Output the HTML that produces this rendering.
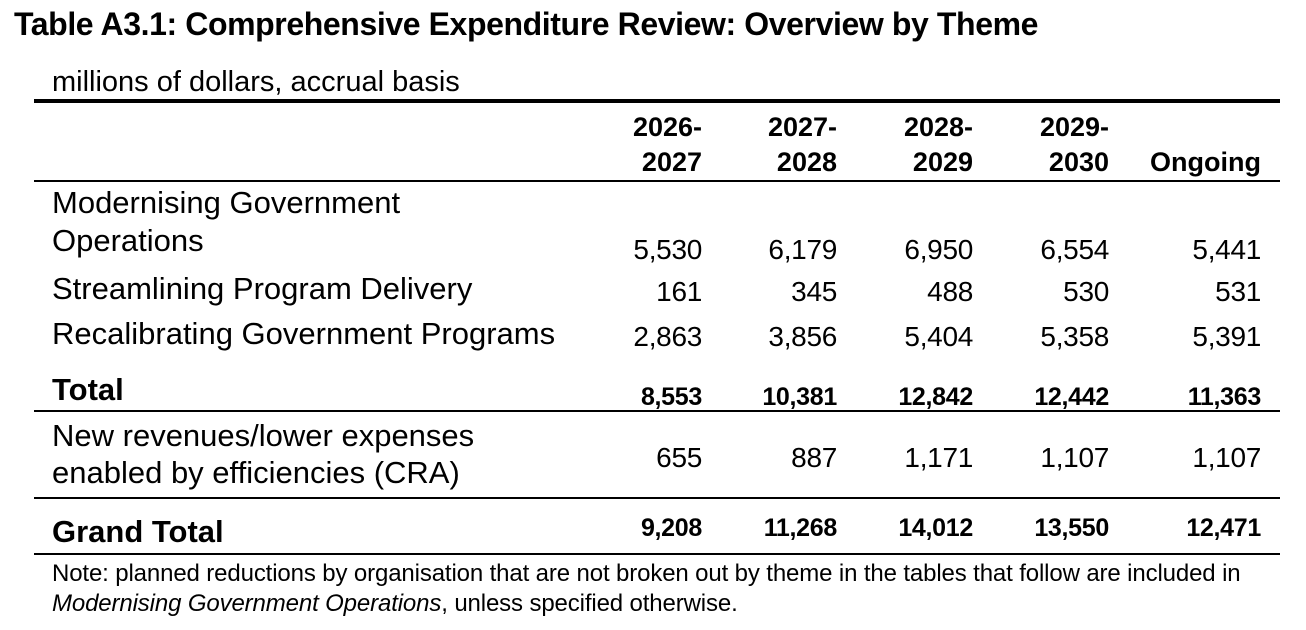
<!DOCTYPE html>
<html><head><meta charset="utf-8"><style>
body{margin:0;width:1306px;height:630px;background:#fff;position:relative;overflow:hidden;font-family:"Liberation Sans",sans-serif;color:#000}
.t{position:absolute;white-space:nowrap;line-height:36px;height:36px}
.r{text-align:right;width:200px}
.b{font-weight:bold}
.ln{position:absolute;left:34px;width:1246px;background:#000}
</style></head><body>
<div class="t b" style="left:14px;top:6px;font-size:32px;letter-spacing:-0.4px">Table A3.1: Comprehensive Expenditure Review: Overview by Theme</div>
<div class="t" style="left:52px;top:64px;font-size:29px;letter-spacing:0px">millions of dollars, accrual basis</div>
<div class="ln" style="top:99px;height:4px"></div>
<div class="ln" style="top:180px;height:2px"></div>
<div class="ln" style="top:410px;height:2px"></div>
<div class="ln" style="top:497px;height:2px"></div>
<div class="ln" style="top:553px;height:2px"></div>
<div id="cells"></div>
<div class="t" style="left:52px;top:556px;font-size:24px;letter-spacing:-0.13px">Note: planned reductions by organisation that are not broken out by theme in the tables that follow are included in</div>
<div class="t" style="left:52px;top:586px;font-size:24px;letter-spacing:-0.13px"><i>Modernising Government Operations</i>, unless specified otherwise.</div>
<script>
const colRight=[702,837,973,1109,1261];
const headers1=["2026-","2027-","2028-","2029-",""];
const headers2=["2027","2028","2029","2030","Ongoing"];
const labels=[["Modernising Government","Operations"],["Streamlining Program Delivery"],["Recalibrating Government Programs"],["Total"],["New revenues/lower expenses","enabled by efficiencies (CRA)"],["Grand Total"]];
const values=[[5530,6179,6950,6554,5441],[161,345,488,530,531],[2863,3856,5404,5358,5391],[8553,10381,12842,12442,11363],[655,887,1171,1107,1107],[9208,11268,14012,13550,12471]];
const bold=[false,false,false,true,false,true];
const labelY=[[203,241],[289],[334],[390],[436,473],[532]];
const valY=[250,292,337,397,458,528];
const c=document.getElementById('cells');
function add(txt,x,y,cls,fs,right){const d=document.createElement('div');d.className='t '+cls;d.textContent=txt;d.style.fontSize=fs+'px';d.style.top=(y-18)+'px';d.style.left=(right?x-200:x)+'px';if(right)d.classList.add('r');c.appendChild(d);return d;}
colRight.forEach((x,i)=>{let a=add(headers1[i],x,127,'b',27,true);


let b=add(headers2[i],x,162,'b',27,true);

});
labels.forEach((ls,r)=>{ls.forEach((l,k)=>{let d=add(l,52,labelY[r][k],bold[r]?'b':'',31,false);


d.style.letterSpacing='0px';});
values[r].forEach((v,i)=>{let d=add(v.toLocaleString('en-US'),colRight[i],valY[r],bold[r]?'b':'',bold[r]?25:28,true);


d.style.letterSpacing='-0.3px';});});
</script>
</body></html>
